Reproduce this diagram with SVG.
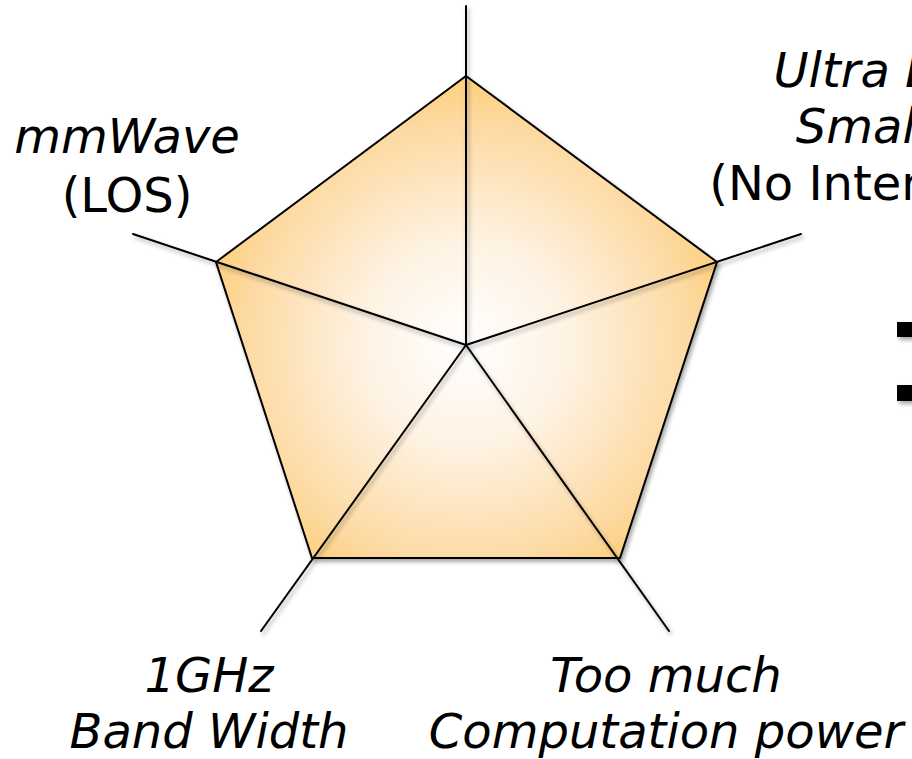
<svg xmlns="http://www.w3.org/2000/svg" width="912" height="759" viewBox="0 0 912 759">
<style>
.lbl{font-family:"DejaVu Sans","Verdana",sans-serif;font-size:48px;fill:#000;text-anchor:middle}
.it{font-style:italic}
.ax{stroke:#000;stroke-width:2;fill:none;stroke-linecap:round}
</style>
<defs>
<radialGradient id="g" cx="466" cy="345" r="300" gradientUnits="userSpaceOnUse">
<stop offset="0" stop-color="#FFFFFF"/>
<stop offset="0.35" stop-color="#FEF2E2"/>
<stop offset="0.75" stop-color="#FDD9A0"/>
<stop offset="1" stop-color="#FEC75E"/>
</radialGradient>
<filter id="sh" x="-10%" y="-10%" width="130%" height="130%">
<feGaussianBlur in="SourceAlpha" stdDeviation="2"/>
<feOffset dx="2" dy="3" result="o"/>
<feComponentTransfer><feFuncA type="linear" slope="0.35"/></feComponentTransfer>
<feMerge><feMergeNode/><feMergeNode in="SourceGraphic"/></feMerge>
</filter>
</defs>
<rect width="912" height="759" fill="#fff"/>
<g id="pentagon" filter="url(#sh)">
<polygon points="466,76 717,262 620,558 312,558 216,262" fill="url(#g)" stroke="#000" stroke-width="2" stroke-linejoin="miter"/>
</g>
<g id="connectors" filter="url(#sh)">
<line class="ax" x1="466" y1="345" x2="466" y2="6"/>
<line class="ax" x1="466" y1="345" x2="801" y2="234"/>
<line class="ax" x1="466" y1="345" x2="669" y2="631"/>
<line class="ax" x1="466" y1="345" x2="261" y2="631"/>
<line class="ax" x1="466" y1="345" x2="133" y2="234"/>
</g>
<g id="label-mmwave">
<text class="lbl it" x="127" y="153">mmWave</text>
<text class="lbl" x="127" y="212">(LOS)</text>
</g>
<g id="label-ultra">
<text class="lbl it" x="915" y="87">Ultra Dense</text>
<text class="lbl it" x="915" y="143">Small Cell</text>
<text class="lbl" x="915" y="200">(No Interference)</text>
</g>
<g id="label-1ghz">
<text class="lbl it" x="209" y="692">1GHz</text>
<text class="lbl it" x="209" y="748">Band Width</text>
</g>
<g id="label-computation">
<text class="lbl it" x="666" y="692">Too much</text>
<text class="lbl it" x="666" y="748">Computation power</text>
</g>
<g id="equals" filter="url(#sh)">
<rect x="897" y="322" width="20" height="15" fill="#000"/>
<rect x="897" y="385" width="20" height="16" fill="#000"/>
</g>
</svg>
